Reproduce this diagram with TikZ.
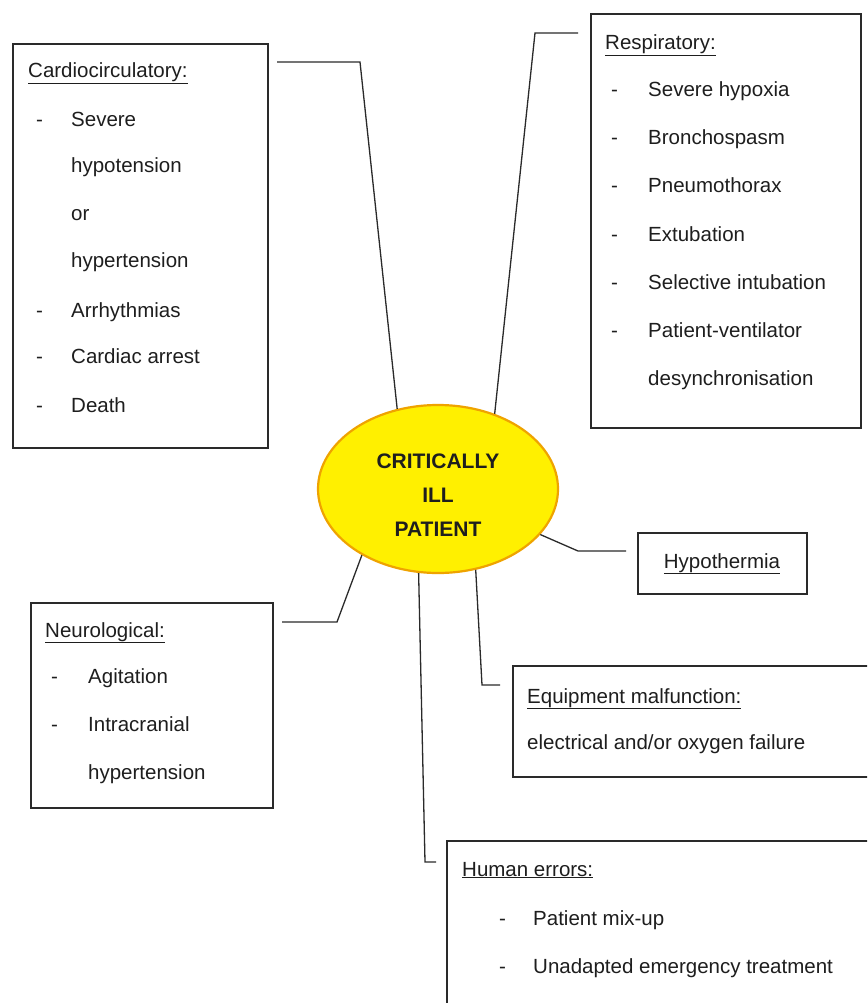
\documentclass[tikz,border=0pt]{standalone}
\usepackage{fontspec}
\setmainfont{Liberation Sans}
\usetikzlibrary{shapes.geometric}
\definecolor{ellfill}{HTML}{FFF000}
\definecolor{elldraw}{HTML}{EFA300}
\definecolor{ink}{HTML}{1E1E1E}
\definecolor{boxline}{HTML}{2A2A2A}
\tikzset{
  box/.style={draw=boxline, line width=1.8pt, fill=white, inner sep=0pt, anchor=north west},
  conn/.style={draw=boxline, line width=1.3pt},
  txt/.style={anchor=base west, inner sep=0pt, font=\fontsize{20.5}{24}\selectfont, text=ink},
  ttl/.style={txt},
  ell/.style={ellipse, fill=ellfill, draw=elldraw, line width=2.2pt, minimum width=240pt, minimum height=168pt, inner sep=0pt},
  elltxt/.style={align=center, inner sep=0pt, text=ink, font=\bfseries\fontsize{21}{34}\selectfont}
}
\begin{document}
\begin{tikzpicture}[x=1pt, y=-1pt]
\useasboundingbox (0,0) rectangle (867,1003);
\clip (0,0) rectangle (867,1003);
\fill[white] (0,0) rectangle (867,1003);

% boxes
\node[box, minimum width=255pt, minimum height=404pt] (cardio) at (12,43) {};
\node[box, minimum width=270pt, minimum height=414pt] (resp) at (590,13) {};
\node[box, minimum width=242pt, minimum height=205pt] (neuro) at (30,602) {};
\node[box, minimum width=169pt, minimum height=61pt] (hypo) at (637,532) {};
\node[box, minimum width=380pt, minimum height=111pt] (equip) at (512,665) {};
\node[box, minimum width=440pt, minimum height=200pt] (human) at (446,840) {};

% central ellipse
\node[ell] (E) at (438,489) {};
\node[elltxt] (Et) at (438,495) {CRITICALLY\\ILL\\PATIENT};

% Cardiocirculatory
\node[ttl] (cT) at (28,78) {\underline{Cardiocirculatory:}};
\node[txt] (cd1) at (36,127) {-};
\node[txt] (c1) at (71,127) {Severe};
\node[txt] (c2) at (71,172) {hypotension};
\node[txt] (c3) at (71,220) {or};
\node[txt] (c4) at (71,267) {hypertension};
\node[txt] (cd5) at (36,317) {-};
\node[txt] (c5) at (71,317) {Arrhythmias};
\node[txt] (cd6) at (36,363) {-};
\node[txt] (c6) at (71,363) {Cardiac arrest};
\node[txt] (cd7) at (36,412) {-};
\node[txt] (c7) at (71,412) {Death};

% Respiratory
\node[ttl] (rT) at (605,50) {\underline{Respiratory:}};
\node[txt] (rd1) at (611,97) {-};
\node[txt] (r1) at (648,97) {Severe hypoxia};
\node[txt] (rd2) at (611,145) {-};
\node[txt] (r2) at (648,145) {Bronchospasm};
\node[txt] (rd3) at (611,193) {-};
\node[txt] (r3) at (648,193) {Pneumothorax};
\node[txt] (rd4) at (611,241) {-};
\node[txt] (r4) at (648,241) {Extubation};
\node[txt] (rd5) at (611,289) {-};
\node[txt] (r5) at (648,289) {Selective intubation};
\node[txt] (rd6) at (611,337) {-};
\node[txt] (r6) at (648,337) {Patient-ventilator};
\node[txt] (r7) at (648,385) {desynchronisation};

% Neurological
\node[ttl] (nT) at (45,637) {\underline{Neurological:}};
\node[txt] (nd1) at (51,683) {-};
\node[txt] (n1) at (88,683) {Agitation};
\node[txt] (nd2) at (51,731) {-};
\node[txt] (n2) at (88,731) {Intracranial};
\node[txt] (n3) at (88,779) {hypertension};

% Hypothermia
\node[txt, anchor=base] (h1) at (722,568) {\underline{Hypothermia}};

% Equipment
\node[ttl] (eT) at (527,703) {\underline{Equipment malfunction:}};
\node[txt] (e1) at (527,749) {electrical and/or oxygen failure};

% Human errors
\node[ttl] (hT) at (462,876) {\underline{Human errors:}};
\node[txt] (hd1) at (499,925) {-};
\node[txt] (hu1) at (533,925) {Patient mix-up};
\node[txt] (hd2) at (499,973) {-};
\node[txt] (hu2) at (533,973) {Unadapted emergency treatment};

% connector joints
\coordinate (cJ) at (277,62);   \coordinate (cK) at (360,62);
\coordinate (rJ) at (578,33);   \coordinate (rK) at (535,33);
\coordinate (hJ) at (578,551);  \coordinate (hK) at (626,551);
\coordinate (eJ) at (482,685);  \coordinate (eK) at (500,685);
\coordinate (uJ) at (425,862);  \coordinate (uK) at (436,862);
\coordinate (nJ) at (337,622);  \coordinate (nK) at (282,622);

\draw[conn] (cJ) -- (cK) -- (E.117);
\draw[conn] (rJ) -- (rK) -- (E.53);
\draw[conn] (E.-24) -- (hJ) -- (hK);
\draw[conn] (E.-65) -- (eJ) -- (eK);
\draw[conn] (E.-103.5) -- (uJ) -- (uK);
\draw[conn] (E.-139) -- (nJ) -- (nK);
\end{tikzpicture}
\end{document}
